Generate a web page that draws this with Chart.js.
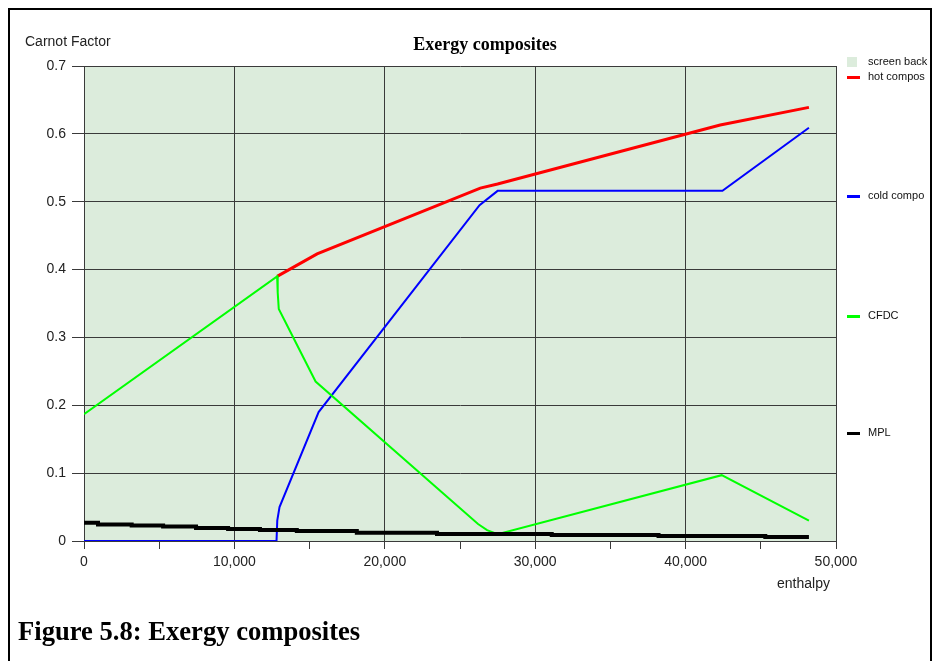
<!DOCTYPE html>
<html>
<head>
<meta charset="utf-8">
<script src="https://cdn.jsdelivr.net/npm/chart.js@4"></script>
<style>
  html, body { margin: 0; padding: 0; background: #fff; }
  body { width: 936px; height: 661px; position: relative; overflow: hidden; font-family: "Liberation Sans", Arial, sans-serif; }
  #wrap { position: absolute; left: 0; top: 0; width: 936px; height: 661px; }
  #frame { position: absolute; left: 8px; top: 8px; width: 920px; height: 700px; border: 2px solid #000; border-bottom: none; }
  .lbl { position: absolute; font-size: 14px; color: #222; white-space: nowrap; }
  #title { position: absolute; left: 335px; width: 300px; top: 34px; text-align: center; font: bold 18px "Liberation Serif", "Times New Roman", serif; color: #000; }
  #caption { position: absolute; left: 18px; top: 616px; font: bold 26.6px "Liberation Serif", "Times New Roman", serif; color: #000; white-space: nowrap; }
  #legend { position: absolute; left: 840px; top: 0; width: 90px; height: 661px; overflow: hidden; }
  .item { position: absolute; left: 7px; font-size: 11px; color: #111; white-space: nowrap; }
  .item i { display: inline-block; width: 13px; height: 3px; vertical-align: middle; margin-right: 8px; }
</style>
</head>
<body>
<div id="wrap"><canvas id="c" width="936" height="661"></canvas></div>
<div id="frame"></div>
<div class="lbl" style="left:25px; top:33px;">Carnot Factor</div>
<div id="title">Exergy composites</div>
<div class="lbl" style="left:777px; top:575px;">enthalpy</div>
<div id="legend">
  <div class="item" style="top:55px;"><i style="width:10px;height:10px;background:#dcecdc;margin-right:11px;"></i>screen back</div>
  <div class="item" style="top:70px;"><i style="background:#ff0000;"></i>hot compos</div>
  <div class="item" style="top:189px;"><i style="background:#0000ff;"></i>cold compo</div>
  <div class="item" style="top:309px;"><i style="background:#00ff00;"></i>CFDC</div>
  <div class="item" style="top:426px;"><i style="background:#000;"></i>MPL</div>
</div>
<div id="caption">Figure 5.8: Exergy composites</div>
<script>
// enthalpy (x) and Carnot factor (y) per curve
const hotH = [12840, 15500, 26350, 27500, 42300, 48200];
const hotC = [0.390, 0.423, 0.520, 0.526, 0.613, 0.639];

const coldH = [0, 12800, 12850, 13000, 15600, 26300, 27500, 42450, 48200];
const coldC = [0, 0, 0.03, 0.05, 0.19, 0.495, 0.516, 0.516, 0.609];

const cfdcH = [0, 12840, 12880, 12950, 15400, 26200, 26800, 27500, 42400, 48200];
const cfdcC = [0.187, 0.390, 0.366, 0.342, 0.235, 0.025, 0.016, 0.010, 0.097, 0.030];

const mplH = [0, 930, 3170, 5260, 7450, 9580, 11700, 14150, 18140, 23470, 31100, 38200, 45300, 48200];
const mplC = [0.0270, 0.0245, 0.0228, 0.0212, 0.0192, 0.0177, 0.0162, 0.0147, 0.0123, 0.0103, 0.0088, 0.0074, 0.0059, 0.0059];

const xMax = 50000, xStep = 5000;
const yMax = 0.7, yStep = 0.1;

const pts = (xs, ys) => xs.map((x, i) => ({ x, y: ys[i] }));

const plotBg = {
  id: "plotBg",
  beforeDraw(chart) {
    const { ctx, chartArea: a } = chart;
    ctx.save();
    ctx.fillStyle = "#dcecdc";
    ctx.fillRect(a.left, a.top, a.right - a.left, a.bottom - a.top);
    ctx.restore();
  },
};

const line = (data, color, width, extra) => Object.assign({
  data, borderColor: color, backgroundColor: color, borderWidth: width,
  pointRadius: 0, showLine: true, tension: 0, fill: false,
}, extra || {});

new Chart(document.getElementById("c"), {
  type: "scatter",
  data: {
    datasets: [
      line(pts(mplH, mplC), "#000000", 4, { stepped: true }),
      line(pts(cfdcH, cfdcC), "#00ff00", 2),
      line(pts(coldH, coldC), "#0000ff", 2),
      line(pts(hotH, hotC), "#ff0000", 3),
    ],
  },
  options: {
    responsive: false, animation: false,
    layout: { padding: { left: 0, top: 66, right: 100, bottom: 0 } },
    plugins: { legend: { display: false }, tooltip: { enabled: false }, title: { display: false } },
    scales: {
      x: {
        type: "linear", min: 0, max: xMax,
        afterFit: (s) => { s.height = 120; },
        grid: {
          color: (c) => (c.tick && c.tick.value % 10000 === 0 ? "#3a3a3a" : "rgba(0,0,0,0)"),
          tickColor: "#3a3a3a", tickLength: 8, lineWidth: 1,
        },
        border: { color: "#3a3a3a" },
        ticks: {
          stepSize: xStep, autoSkip: false, maxRotation: 0, padding: 5,
          color: "#222", font: { family: "Liberation Sans", size: 14 },
          callback: (v) => (v % 10000 === 0 ? v.toLocaleString("en-US") : ""),
        },
      },
      y: {
        type: "linear", min: 0, max: yMax,
        afterFit: (s) => { s.width = 84; },
        grid: { color: "#3a3a3a", tickColor: "#3a3a3a", tickLength: 12, lineWidth: 1 },
        border: { color: "#3a3a3a" },
        ticks: {
          stepSize: yStep, padding: 6,
          color: "#222", font: { family: "Liberation Sans", size: 14 },
          callback: (v) => (Math.abs(v) < 1e-9 ? "0" : v.toFixed(1)),
        },
      },
    },
  },
  plugins: [plotBg],
});
</script>
</body>
</html>
